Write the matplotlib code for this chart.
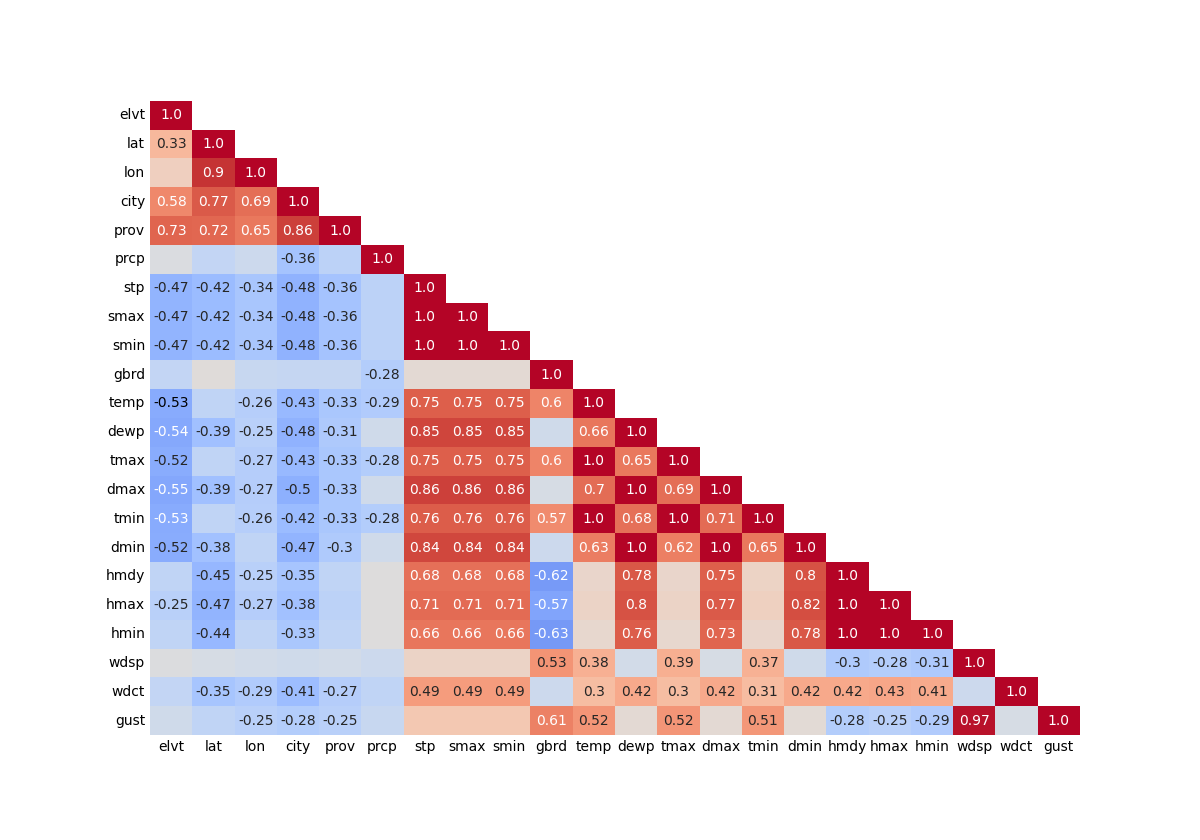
import numpy as np
import matplotlib
matplotlib.use("Agg")
import matplotlib.pyplot as plt
import seaborn as sns

cols = ["elvt", "lat", "lon", "city", "prov", "prcp", "stp", "smax", "smin",
        "gbrd", "temp", "dewp", "tmax", "dmax", "tmin", "dmin", "hmdy", "hmax",
        "hmin", "wdsp", "wdct", "gust"]

# lower triangle of the correlation matrix, one list per row
elvt = [1.0]
lat = [0.33, 1.0]
lon = [0.16, 0.9, 1.0]
city = [0.58, 0.77, 0.69, 1.0]
prov = [0.73, 0.72, 0.65, 0.86, 1.0]
prcp = [-0.02, -0.18, -0.12, -0.36, -0.22, 1.0]
stp = [-0.47, -0.42, -0.34, -0.48, -0.36, -0.22, 1.0]
smax = [-0.47, -0.42, -0.34, -0.48, -0.36, -0.22, 1.0, 1.0]
smin = [-0.47, -0.42, -0.34, -0.48, -0.36, -0.22, 1.0, 1.0, 1.0]
gbrd = [-0.18, 0.02, -0.15, -0.17, -0.17, -0.28, 0.05, 0.05, 0.05, 1.0]
temp = [-0.53, -0.2, -0.26, -0.43, -0.33, -0.29, 0.75, 0.75, 0.75, 0.6, 1.0]
dewp = [-0.54, -0.39, -0.25, -0.48, -0.31, -0.1, 0.85, 0.85, 0.85, -0.1, 0.66, 1.0]
tmax = [-0.52, -0.2, -0.27, -0.43, -0.33, -0.28, 0.75, 0.75, 0.75, 0.6, 1.0, 0.65, 1.0]
dmax = [-0.55, -0.39, -0.27, -0.5, -0.33, -0.1, 0.86, 0.86, 0.86, -0.05, 0.7, 1.0, 0.69, 1.0]
tmin = [-0.53, -0.2, -0.26, -0.42, -0.33, -0.28, 0.76, 0.76, 0.76, 0.57, 1.0, 0.68, 1.0, 0.71, 1.0]
dmin = [-0.52, -0.38, -0.2, -0.47, -0.3, -0.1, 0.84, 0.84, 0.84, -0.12, 0.63, 1.0, 0.62, 1.0, 0.65, 1.0]
hmdy = [-0.2, -0.45, -0.25, -0.35, -0.2, 0.0, 0.68, 0.68, 0.68, -0.62, 0.1, 0.78, 0.1, 0.75, 0.13, 0.8, 1.0]
hmax = [-0.25, -0.47, -0.27, -0.38, -0.22, 0.0, 0.71, 0.71, 0.71, -0.57, 0.12, 0.8, 0.12, 0.77, 0.15, 0.82, 1.0, 1.0]
hmin = [-0.2, -0.44, -0.2, -0.33, -0.2, 0.0, 0.66, 0.66, 0.66, -0.63, 0.08, 0.76, 0.08, 0.73, 0.1, 0.78, 1.0, 1.0, 1.0]
wdsp = [-0.01, -0.05, -0.08, -0.1, -0.08, -0.12, 0.12, 0.12, 0.12, 0.53, 0.38, -0.08, 0.39, -0.05, 0.37, -0.1,
        -0.3, -0.28, -0.31, 1.0]
wdct = [-0.18, -0.35, -0.29, -0.41, -0.27, -0.2, 0.49, 0.49, 0.49, -0.12, 0.3, 0.42, 0.3, 0.42, 0.31, 0.42,
        0.42, 0.43, 0.41, -0.12, 1.0]
gust = [-0.1, -0.2, -0.25, -0.28, -0.25, -0.15, 0.22, 0.22, 0.22, 0.61, 0.52, 0.05, 0.52, 0.05, 0.51, 0.04,
        -0.28, -0.25, -0.29, 0.97, -0.05, 1.0]

rows = [elvt, lat, lon, city, prov, prcp, stp, smax, smin, gbrd, temp, dewp,
        tmax, dmax, tmin, dmin, hmdy, hmax, hmin, wdsp, wdct, gust]

n = len(cols)
corr = np.zeros((n, n))
for i, r in enumerate(rows):
    for j, v in enumerate(r):
        corr[i, j] = v
        corr[j, i] = v

labels = np.empty((n, n), dtype=object)
for i in range(n):
    for j in range(n):
        v = round(corr[i, j], 2)
        labels[i, j] = str(v) if abs(v) >= 0.25 else ""

mask = np.triu(np.ones((n, n), dtype=bool), k=1)

fig, ax = plt.subplots(figsize=(12, 8.4), dpi=100)
fig.subplots_adjust(left=0.125, right=0.9, top=0.88, bottom=0.125)
sns.heatmap(corr, mask=mask, cmap="coolwarm", vmin=-1, vmax=1, annot=labels, fmt="",
            cbar=False, xticklabels=cols, yticklabels=cols, ax=ax)
ax.tick_params(length=0)
plt.setp(ax.get_yticklabels(), rotation=0)
plt.setp(ax.get_xticklabels(), rotation=0)

# text colour per cell as in the original (temp/elvt is dark, tmin/elvt light)
for t in ax.texts:
    x, y = t.get_position()
    i, j = int(y), int(x)
    if (cols[i], cols[j]) == ("temp", "elvt"):
        t.set_color("black")
    if (cols[i], cols[j]) == ("tmin", "elvt"):
        t.set_color("white")

fig.savefig("out.png")
